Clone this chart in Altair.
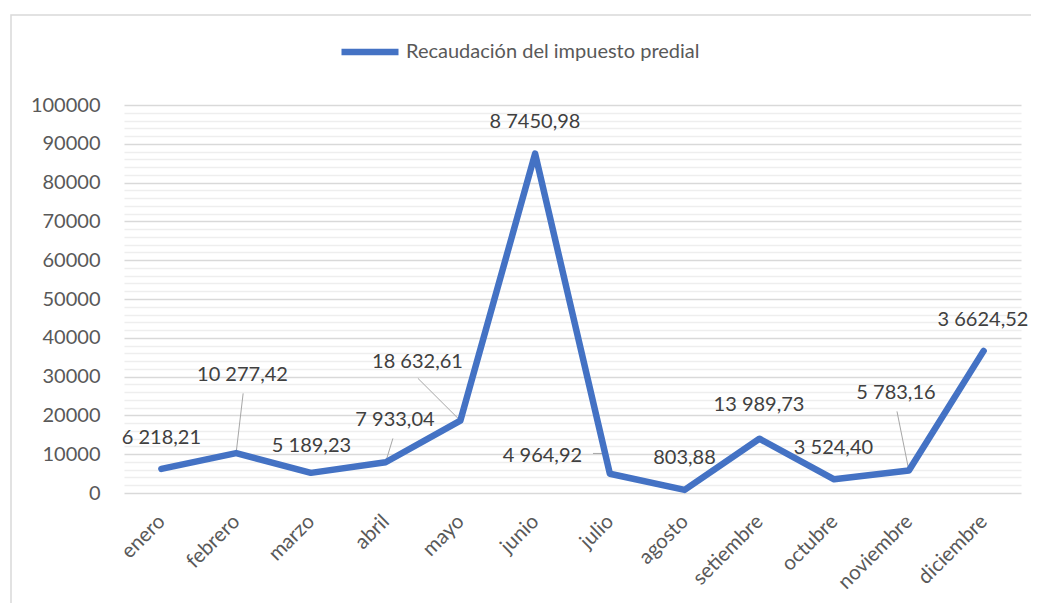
import json
import altair as alt
import pandas as pd

# ---- data ----
months = ["enero", "febrero", "marzo", "abril", "mayo", "junio", "julio",
          "agosto", "setiembre", "octubre", "noviembre", "diciembre"]
values = [6218.21, 10277.42, 5189.23, 7933.04, 18632.61, 87450.98, 4964.92,
          803.88, 13989.73, 3524.40, 5783.16, 36624.52]
labels = ["6 218,21", "10 277,42", "5 189,23", "7 933,04", "18 632,61", "8 7450,98",
          "4 964,92", "803,88", "13 989,73", "3 524,40", "5 783,16", "3 6624,52"]
series_name = "Recaudación del impuesto predial"

# label placement (in data units: month index, value)
label_x = [0.0, 1.085, 2.008, 3.125, 3.426, 4.998, 5.098, 6.998, 7.995, 8.991, 9.827, 10.991]
label_y = [14300, 30300, 12000, 18700, 33750, 95600, 9420, 8900, 22600, 11480, 25680, 44500]

# leader lines (start in data units -> end point)
leader_x1 = [1.094, 3.097, 3.432, 5.774, 5.948, 9.841]
leader_y1 = [25677, 14064, 29548, 10193, 10193, 21032]
leader_x2 = [1, 3, 4, 5.948, 6, 10]
leader_y2 = [10277.42, 7933.04, 18632.61, 10193, 4964.92, 5783.16]

FONT = "Lato"
BLUE = "#4472C4"

df = pd.DataFrame({
    "idx": list(range(len(months))),
    "mes": months,
    "value": values,
    "serie": [series_name] * len(months),
})
df_lab = pd.DataFrame({"lx": label_x, "ly": label_y, "label": labels})
df_lead = pd.DataFrame({"x1": leader_x1, "y1": leader_y1, "x2": leader_x2, "y2": leader_y2})

months_js = json.dumps(months)

x_scale = alt.Scale(domain=[-0.5, 11.5], nice=False, zero=False)
y_scale = alt.Scale(domain=[0, 100000], nice=False)

x_axis = alt.Axis(
    values=list(range(12)),
    labelExpr=f"{months_js}[datum.value]",
    labelAngle=-45, labelAlign="right", labelBaseline="top",
    labelFont=FONT, labelFontSize=20.5, labelColor="#595959",
    labelPadding=18, labelOffset=-7,
    labelFlush=False, labelOverlap=False, labelBound=False,
    grid=False, ticks=False, domain=False, title=None,
)
y_axis = alt.Axis(
    values=list(range(0, 100001, 2000)),
    labelExpr="datum.value % 10000 === 0 ? format(datum.value, 'd') : ''",
    labelFont=FONT, labelFontSize=20, labelColor="#595959",
    labelPadding=24, labelOverlap=False, labelBound=False, labelFlush=False,
    ticks=False, domain=False, title=None,
    gridColor={"condition": {"test": "datum.value % 10000 === 0", "value": "#d9d9d9"},
               "value": "#eeeeee"},
    gridWidth={"condition": {"test": "datum.value % 10000 === 0", "value": 1.3},
               "value": 1.5},
)


def X(field):
    return alt.X(field, scale=x_scale, axis=x_axis)


def Y(field):
    return alt.Y(field, scale=y_scale, axis=y_axis)


border = alt.Chart(pd.DataFrame({"a": [0]})).mark_rect(
    fillOpacity=0, stroke="#d9d9d9", strokeWidth=1.5
).encode(x=alt.value(-113), y=alt.value(-90), x2=alt.value(1200), y2=alt.value(900))

line = alt.Chart(df).mark_line(
    strokeWidth=6.5, strokeCap="round", strokeJoin="round"
).encode(
    x=X("idx:Q"), y=Y("value:Q"),
    color=alt.Color(
        "serie:N",
        scale=alt.Scale(domain=[series_name], range=[BLUE]),
        legend=alt.Legend(
            orient="none", legendX=214, legendY=-85, title=None,
            symbolType="stroke", symbolStrokeWidth=6.5, symbolSize=3249,
            labelFont=FONT, labelFontSize=20, labelColor="#595959", labelOffset=4,
            labelLimit=0,
        ),
    ),
)

leaders = alt.Chart(df_lead).mark_rule(color="#a6a6a6", strokeWidth=1).encode(
    x=X("x1:Q"), y=Y("y1:Q"), x2="x2:Q", y2="y2:Q"
)

texts = alt.Chart(df_lab).mark_text(
    font=FONT, fontSize=20, color="#404040", align="center", baseline="middle"
).encode(x=X("lx:Q"), y=Y("ly:Q"), text="label:N")

chart = alt.layer(border, leaders, line, texts).properties(
    width=897, height=388,
    autosize=alt.AutoSizeParams(type="none"),
    padding={"left": 116, "top": 97, "right": 10, "bottom": 110},
    background="white",
).configure_view(stroke=None)

chart.save("out.html", embed_options={"renderer": "svg", "actions": False})
